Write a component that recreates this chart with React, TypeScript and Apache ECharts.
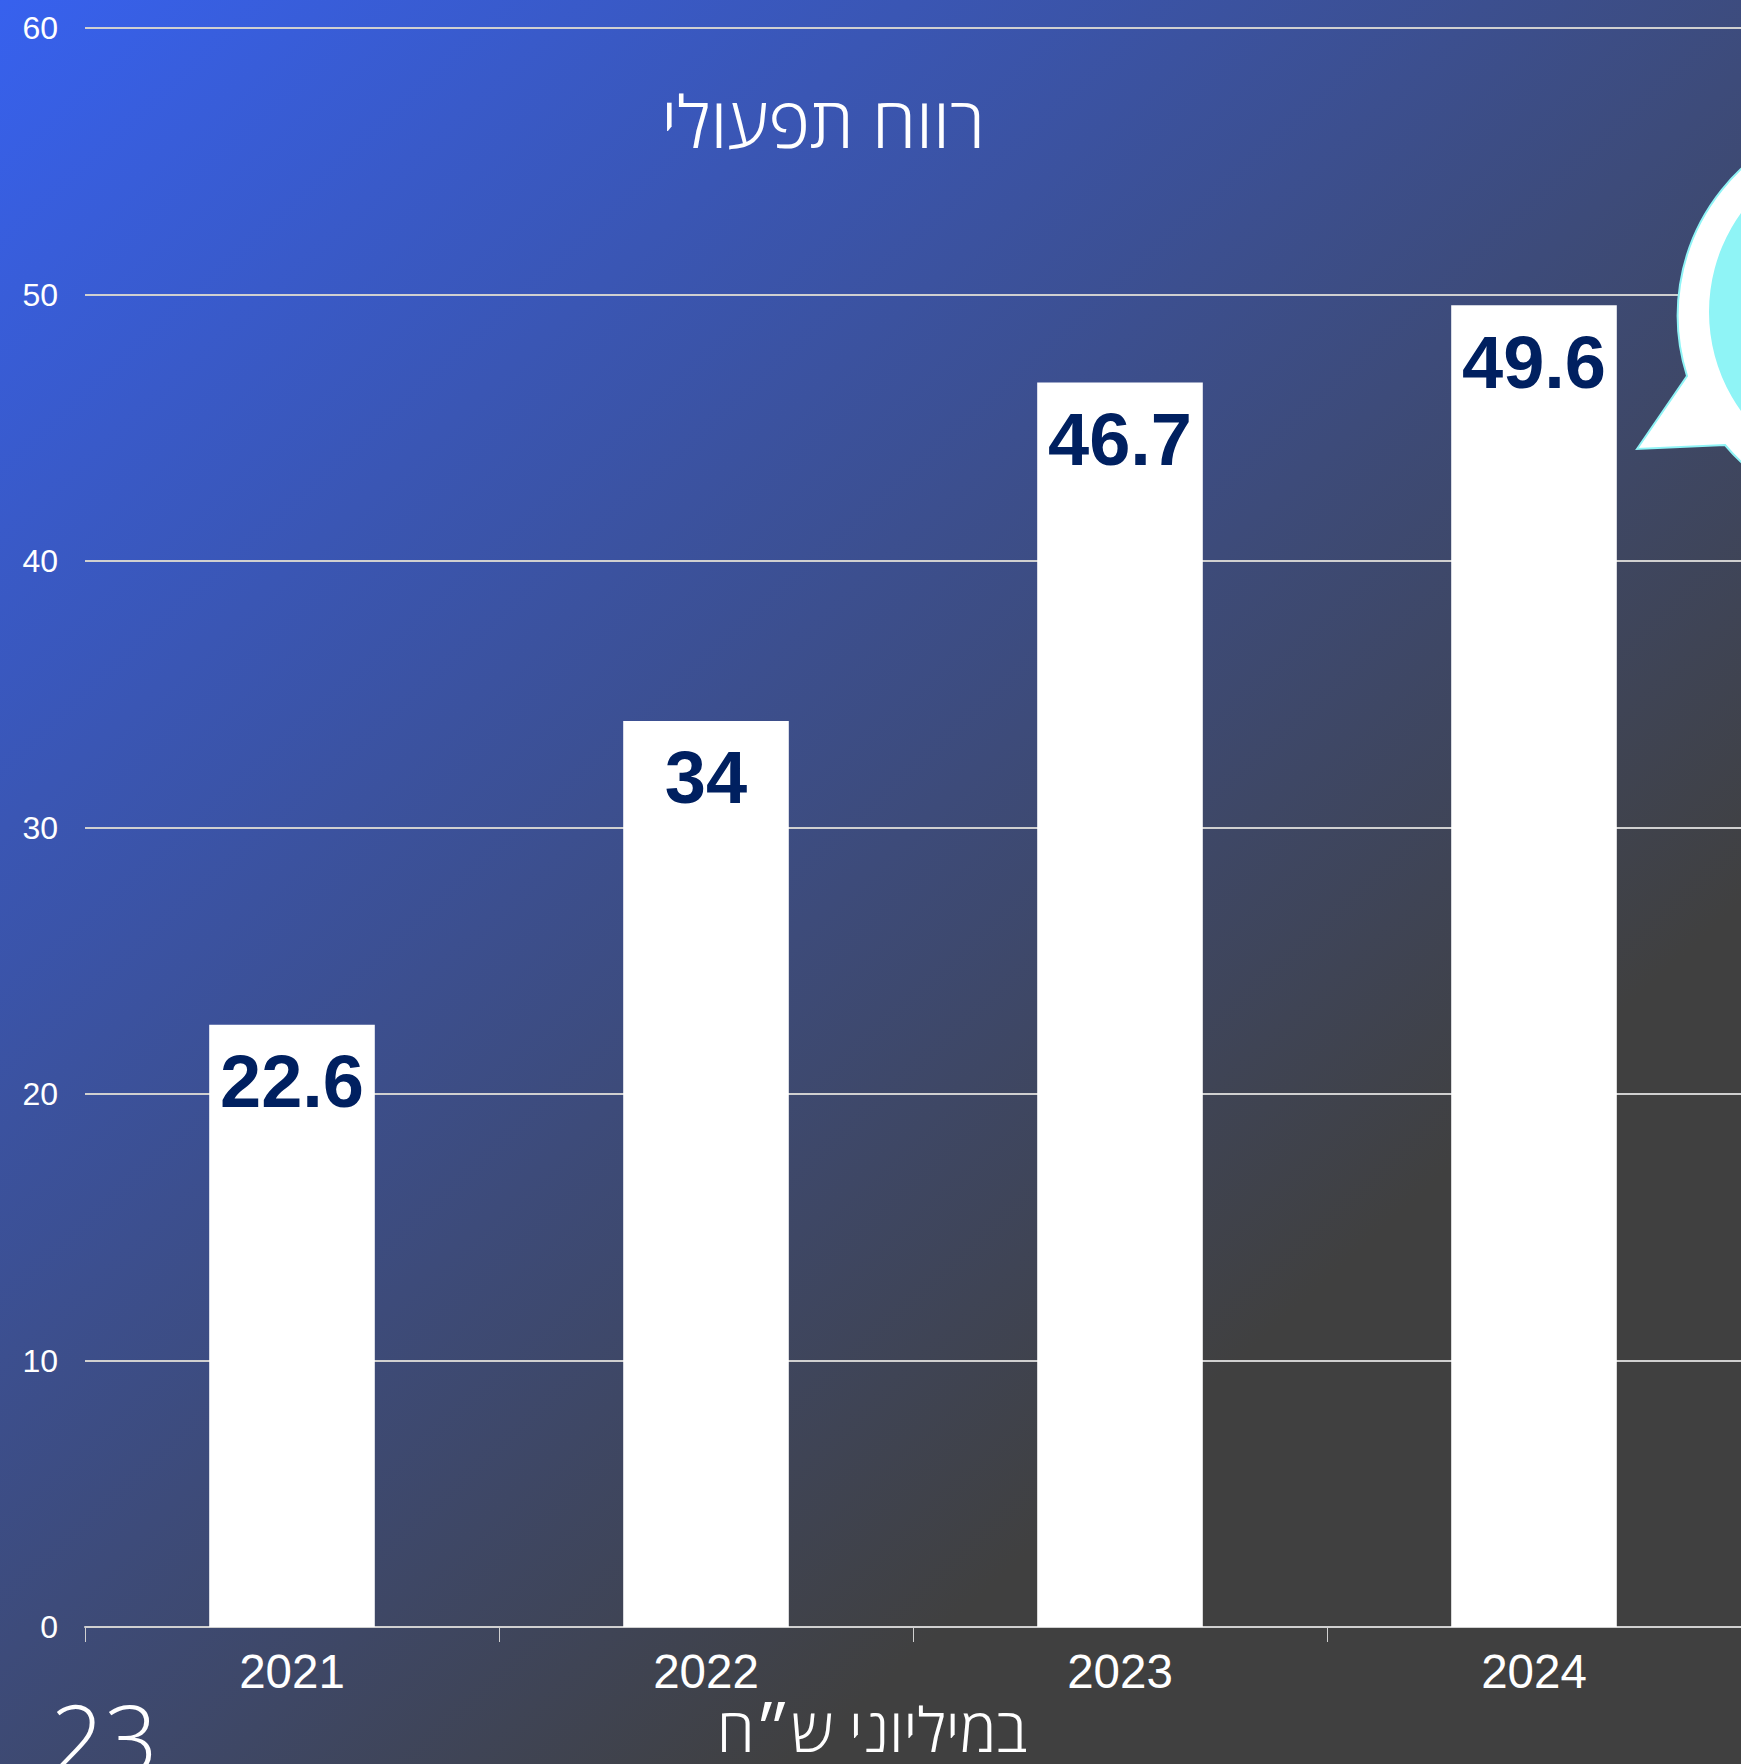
import React, { useEffect, useRef } from "react";
import * as echarts from "echarts";

const categories = ["2021", "2022", "2023", "2024"];
const values = [22.6, 34, 46.7, 49.6];
const titleText = "רווח תפעולי";
const unitText = "במיליוני ש״ח";
const pageNumber = "23";

const SANS = "'Liberation Sans', Arial, sans-serif";
const LIGHT = "'Open Sans', 'Noto Sans', sans-serif";

echarts.graphic.registerShape(
  "callout",
  echarts.graphic.extendPath("M1637 449 L1687 376 A201 201 0 1 1 1725 445 Z", {})
);

export default function App() {
  const ref = useRef<HTMLDivElement>(null);
  useEffect(() => {
    document.body.style.margin = "0";
    const chart = echarts.init(ref.current!, null, { renderer: "svg" });
    chart.setOption({
      animation: false,
      backgroundColor: new echarts.graphic.LinearGradient(0, 0, 0.9, 1, [
        { offset: 0, color: "#3761EE" },
        { offset: 0.78, color: "#404040" },
        { offset: 1, color: "#404040" },
      ]),
      grid: { left: 85, right: 0, top: 28, bottom: 137 },
      xAxis: {
        type: "category",
        data: categories,
        axisLine: { lineStyle: { color: "#d0d0d0", width: 2 } },
        axisTick: { show: true, alignWithLabel: false, length: 15, lineStyle: { color: "#d0d0d0", width: 1 } },
        axisLabel: { color: "#ffffff", fontFamily: SANS, fontSize: 47.5, margin: 20 },
      },
      yAxis: {
        type: "value",
        min: 0,
        max: 60,
        interval: 10,
        axisLine: { show: false },
        axisTick: { show: false },
        splitLine: { lineStyle: { color: "#d0d0d0", width: 2 } },
        axisLabel: { color: "#ffffff", fontFamily: SANS, fontSize: 32, margin: 27 },
      },
      series: [
        {
          type: "bar",
          data: values,
          barWidth: "40%",
          itemStyle: { color: "#ffffff" },
          label: {
            show: true,
            position: "insideTop",
            distance: 20,
            color: "#002060",
            fontFamily: SANS,
            fontWeight: "bold",
            fontSize: 74,
          },
        },
      ],
      graphic: [
        {
          type: "callout",
          z: 20,
          style: { fill: "#ffffff", stroke: "#8FF4F6", lineWidth: 2 },
        },
        {
          type: "circle",
          z: 21,
          shape: { cx: 1878, cy: 312, r: 169 },
          style: { fill: "#8FF4F6" },
        },
        {
          type: "text",
          z: 22,
          x: 823,
          y: 120,
          style: {
            text: titleText,
            fill: "#ffffff",
            font: `300 71px ${LIGHT}`,
            textAlign: "center",
            textVerticalAlign: "middle",
          },
        },
        {
          type: "text",
          z: 22,
          x: 872,
          y: 1728,
          style: {
            text: unitText,
            fill: "#ffffff",
            font: `300 61px ${LIGHT}`,
            textAlign: "center",
            textVerticalAlign: "middle",
          },
        },
        {
          type: "text",
          z: 22,
          x: 104,
          y: 1737,
          style: {
            text: pageNumber,
            fill: "#ffffff",
            font: `300 94px ${LIGHT}`,
            textAlign: "center",
            textVerticalAlign: "middle",
          },
        },
      ],
    });
    return () => chart.dispose();
  }, []);
  return <div ref={ref} style={{ width: 1741, height: 1764 }} />;
}
